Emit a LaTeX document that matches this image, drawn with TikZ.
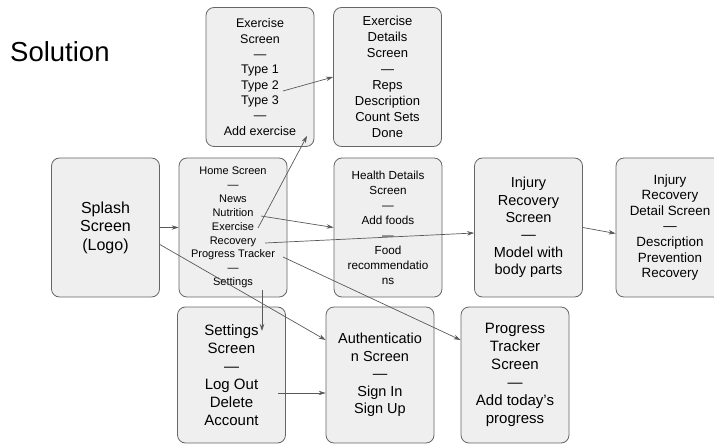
\documentclass[tikz,border=0pt]{standalone}
\usepackage{fontspec}
\setmainfont{Liberation Sans}
\usepackage{tikz}
\usetikzlibrary{arrows.meta,calc}
\definecolor{boxfill}{HTML}{EFEFEF}
\definecolor{boxline}{HTML}{666666}
\definecolor{arrline}{HTML}{595959}

\begin{document}
\begin{tikzpicture}[x=1pt,y=-1pt,
  screen/.style={draw=boxline,fill=boxfill,line width=0.8pt,rounded corners=8pt,
    minimum width=108pt,minimum height=139pt,align=center,inner sep=1pt},
  arr/.style={draw=arrline,line width=0.7pt,-{Stealth[length=7pt,width=4.5pt]}}]
\useasboundingbox (0,0) rectangle (714,446);

\node[anchor=base west,inner sep=0pt,font=\fontsize{27.5}{30}\selectfont] (title) at (10,62) {Solution};

% top row
\node[screen,font=\fontsize{12.5}{15.3}\selectfont] (exs) at (260,77)
  {Exercise\\Screen\\—\\Type 1\\Type 2\\Type 3\\—\\Add exercise};
\node[screen,font=\fontsize{13}{16}\selectfont] (exd) at (387.5,77)
  {Exercise\\Details\\Screen\\—\\Reps\\Description\\Count Sets\\Done};

% middle row
\node[screen,font=\fontsize{16}{18.5}\selectfont] (spl) at (105.5,227.5)
  {Splash\\Screen\\(Logo)};
\node[screen,font=\fontsize{11}{13.9}\selectfont] (home) at (233,227.5)
  {Home Screen\\—\\News\\Nutrition\\Exercise\\Recovery\\Progress Tracker\\—\\Settings};
\node[screen,font=\fontsize{11.7}{15}\selectfont] (hd) at (388,227.5)
  {Health Details\\Screen\\—\\Add foods\\—\\Food\\recommendatio\\ns};
\node[screen,font=\fontsize{14.5}{17.3}\selectfont] (inj) at (528.5,227.5)
  {Injury\\Recovery\\Screen\\—\\Model with\\body parts};
\node[screen,font=\fontsize{13.4}{15.6}\selectfont] (injd) at (670,227.5)
  {Injury\\Recovery\\Detail Screen\\—\\Description\\Prevention\\Recovery};

% bottom row
\node[screen,minimum height=136pt,font=\fontsize{15}{18}\selectfont] (set) at (231.5,375)
  {Settings\\Screen\\—\\Log Out\\Delete\\Account};
\node[screen,minimum height=136pt,font=\fontsize{14.5}{17.5}\selectfont] (auth) at (380,375)
  {Authenticatio\\n Screen\\—\\Sign In\\Sign Up};
\node[screen,minimum height=136pt,font=\fontsize{15}{18}\selectfont] (prog) at (515,375)
  {Progress\\Tracker\\Screen\\—\\Add today's\\progress};

% free ends inside the lists
\coordinate (type2) at (283,91);
\coordinate (exer) at (258,228);
\coordinate (exstop) at (307,136);
\coordinate (nutr) at (261,216);
\coordinate (recov) at (265,243);
\coordinate (progr) at (283,257);
\coordinate (settg) at (262,290);
\coordinate (setstop) at (262,331);
\coordinate (delacc) at (278,393);

\draw[arr] (type2) -- (exd.west);
\draw[arr] (exer) -- (exstop);
\draw[arr] (spl.east) -- (home.west);
\draw[arr] (nutr) -- (hd.west);
\draw[arr] (recov) -- ([yshift=-5.5pt]inj.west);
\draw[arr] (progr) -- ([yshift=35pt]prog.west);
\draw[arr] ([yshift=-17pt]spl.east) -- ([yshift=35pt]auth.west);
\draw[arr] (settg) -- (setstop);
\draw[arr] (inj.east) -- ([yshift=-6pt]injd.west);
\draw[arr] (delacc) -- ([yshift=-18pt]auth.west);
\end{tikzpicture}
\end{document}
